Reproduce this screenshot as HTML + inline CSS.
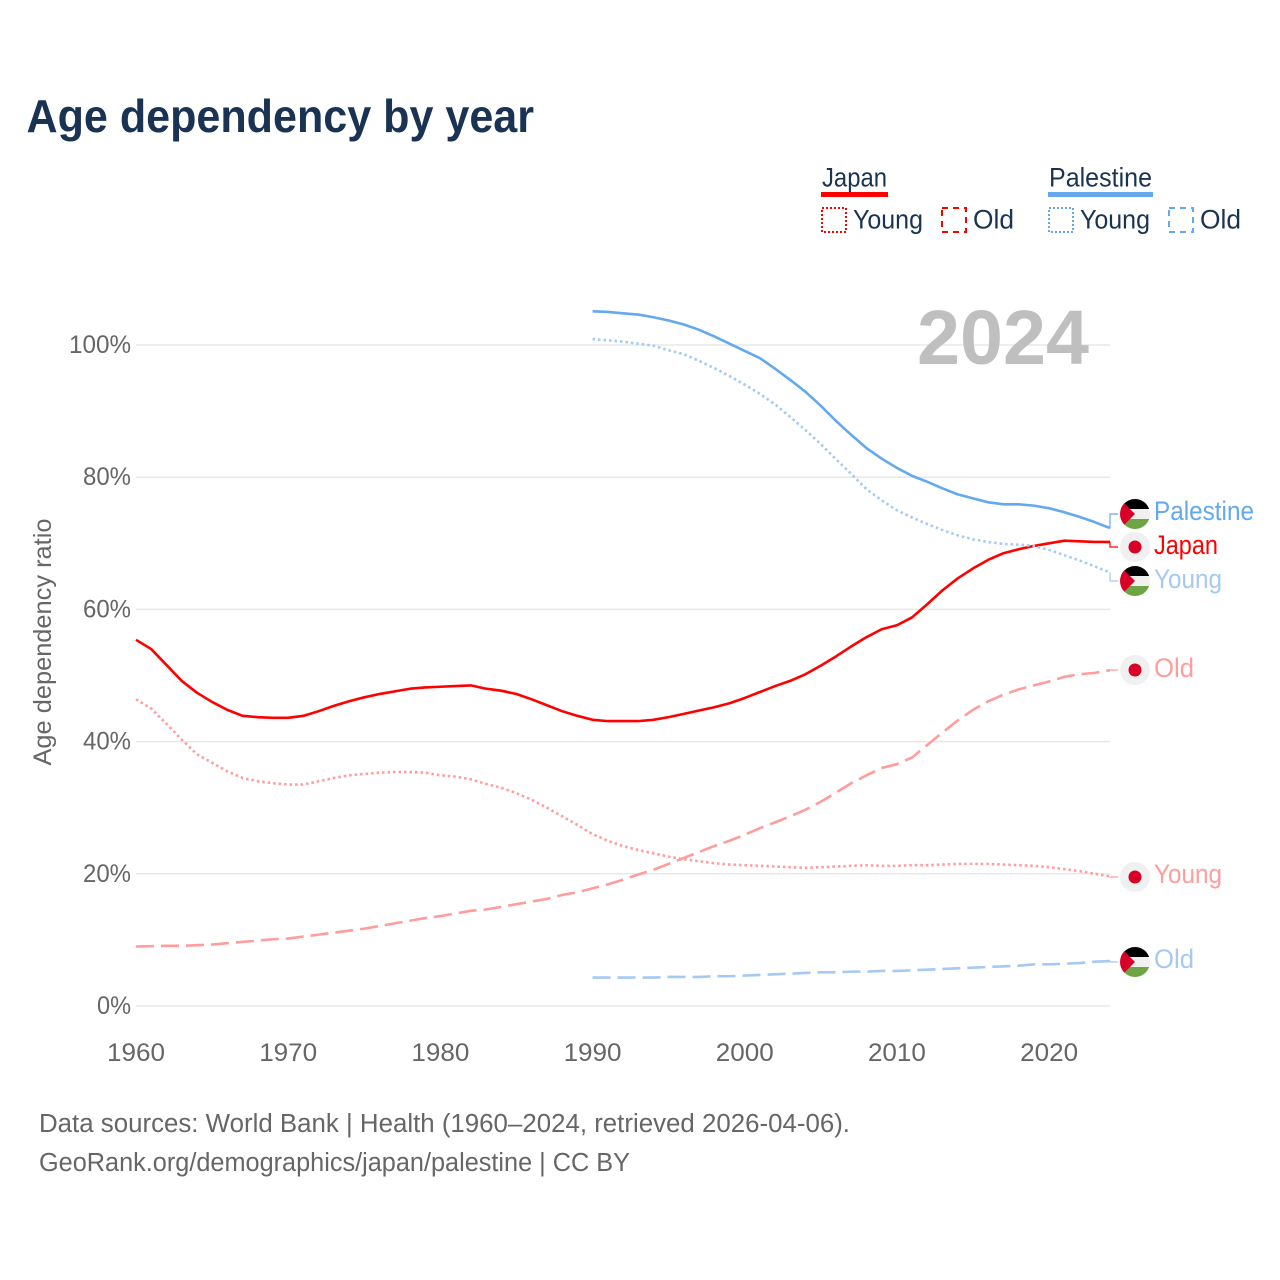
<!DOCTYPE html>
<html lang="en">
<head>
<meta charset="utf-8">
<title>Age dependency by year</title>
<style>
html,body{margin:0;padding:0;background:#fff;width:1280px;height:1280px;overflow:hidden}
svg{display:block}
text{font-family:"Liberation Sans",sans-serif}
</style>
</head>
<body>
<svg id="chart" xmlns="http://www.w3.org/2000/svg" width="1280" height="1280" viewBox="0 0 1280 1280">
  <defs>
    <clipPath id="flag-clip"><circle cx="0" cy="0" r="15"/></clipPath>
    <g id="ps-flag">
      <g clip-path="url(#flag-clip)">
        <rect x="-15" y="-15" width="30" height="10" fill="#000"/>
        <rect x="-15" y="-5" width="30" height="10" fill="#f0f0f0"/>
        <rect x="-15" y="5" width="30" height="10" fill="#6da544"/>
        <polygon points="-15,-15 0,0 -15,15" fill="#d80027"/>
      </g>
    </g>
    <g id="jp-flag">
      <circle r="15" fill="#f0f0f0"/>
      <circle r="6.5" fill="#d80027"/>
    </g>
  </defs>

  <text x="26.5" y="132" font-size="46" font-weight="700" fill="#1a3352" textLength="507.5" lengthAdjust="spacingAndGlyphs">Age dependency by year</text>

  <g font-size="26.5" fill="#1a3352">
    <g>
      <text x="822" y="186.5" textLength="65" lengthAdjust="spacingAndGlyphs">Japan</text>
      <rect x="821" y="192" width="67" height="5" fill="#ff0000"/>
      <rect x="822" y="208" width="24" height="24" fill="none" stroke="#ff0000" stroke-width="2" stroke-dasharray="2,2"/>
      <text x="853" y="228.5" textLength="70" lengthAdjust="spacingAndGlyphs">Young</text>
      <rect x="942" y="208" width="24" height="24" fill="none" stroke="#ff0000" stroke-width="2" stroke-dasharray="6,5"/>
      <text x="973" y="228.5" textLength="41" lengthAdjust="spacingAndGlyphs">Old</text>
    </g>
    <g>
      <text x="1049" y="186.5" textLength="103" lengthAdjust="spacingAndGlyphs">Palestine</text>
      <rect x="1048" y="192" width="105" height="5" fill="#64a8ee"/>
      <rect x="1049" y="208" width="24" height="24" fill="none" stroke="#64a8ee" stroke-width="2" stroke-dasharray="2,2"/>
      <text x="1080" y="228.5" textLength="70" lengthAdjust="spacingAndGlyphs">Young</text>
      <rect x="1169" y="208" width="24" height="24" fill="none" stroke="#64a8ee" stroke-width="2" stroke-dasharray="6,5"/>
      <text x="1200" y="228.5" textLength="41" lengthAdjust="spacingAndGlyphs">Old</text>
    </g>
  </g>

  <g id="grid"></g>

  <text x="917" y="364" font-size="77" font-weight="700" fill="#bfbfbf" textLength="172" lengthAdjust="spacingAndGlyphs">2024</text>

  <g id="y-ticks"></g>
  <g id="x-ticks"></g>
  <text transform="translate(51,642) rotate(-90)" text-anchor="middle" font-size="25" fill="#666666" textLength="247" lengthAdjust="spacingAndGlyphs">Age dependency ratio</text>

  <g id="series"></g>
  <g id="connectors"></g>

  <g font-size="26.5">
    <use href="#ps-flag" x="1135" y="514"/>
    <text x="1154" y="520" fill="#64a8ee" textLength="100" lengthAdjust="spacingAndGlyphs">Palestine</text>
    <use href="#jp-flag" x="1135" y="547"/>
    <text x="1154" y="554" fill="#ff0000" textLength="64" lengthAdjust="spacingAndGlyphs">Japan</text>
    <use href="#ps-flag" x="1135" y="581"/>
    <text x="1154" y="588" fill="#a5c9f3" textLength="68" lengthAdjust="spacingAndGlyphs">Young</text>
    <use href="#jp-flag" x="1135" y="670"/>
    <text x="1154" y="677" fill="#ff9d9d" textLength="40" lengthAdjust="spacingAndGlyphs">Old</text>
    <use href="#jp-flag" x="1135" y="877"/>
    <text x="1154" y="883" fill="#ff9d9d" textLength="68" lengthAdjust="spacingAndGlyphs">Young</text>
    <use href="#ps-flag" x="1135" y="962"/>
    <text x="1154" y="968" fill="#a5c9f3" textLength="40" lengthAdjust="spacingAndGlyphs">Old</text>
  </g>

  <g font-size="25.5" fill="#666666">
    <text x="39" y="1132" textLength="811" lengthAdjust="spacingAndGlyphs">Data sources: World Bank | Health (1960–2024, retrieved 2026-04-06).</text>
    <text x="39" y="1171" textLength="591" lengthAdjust="spacingAndGlyphs">GeoRank.org/demographics/japan/palestine | CC BY</text>
  </g>
</svg>

<script>
const years = [1960,1961,1962,1963,1964,1965,1966,1967,1968,1969,1970,1971,1972,1973,1974,1975,1976,1977,1978,1979,1980,1981,1982,1983,1984,1985,1986,1987,1988,1989,1990,1991,1992,1993,1994,1995,1996,1997,1998,1999,2000,2001,2002,2003,2004,2005,2006,2007,2008,2009,2010,2011,2012,2013,2014,2015,2016,2017,2018,2019,2020,2021,2022,2023,2024];
const palestineYears = [1990,1991,1992,1993,1994,1995,1996,1997,1998,1999,2000,2001,2002,2003,2004,2005,2006,2007,2008,2009,2010,2011,2012,2013,2014,2015,2016,2017,2018,2019,2020,2021,2022,2023,2024];

const japanTotal = [55.4,54.0,51.6,49.2,47.4,46.0,44.8,43.9,43.7,43.6,43.6,43.9,44.6,45.4,46.1,46.7,47.2,47.6,48.0,48.2,48.3,48.4,48.5,48.0,47.7,47.2,46.4,45.5,44.6,43.9,43.3,43.1,43.1,43.1,43.3,43.7,44.2,44.7,45.2,45.8,46.6,47.5,48.4,49.2,50.2,51.5,52.9,54.4,55.8,57.0,57.6,58.8,60.8,62.9,64.7,66.2,67.5,68.5,69.1,69.6,70.0,70.4,70.3,70.2,70.2];
const japanYoung = [46.4,45.0,42.7,40.3,38.1,36.8,35.5,34.5,34.0,33.7,33.5,33.5,34.0,34.5,34.9,35.1,35.3,35.4,35.4,35.3,34.9,34.7,34.3,33.6,33.0,32.2,31.2,30.0,28.7,27.4,26.0,25.0,24.2,23.6,23.1,22.6,22.2,21.9,21.6,21.4,21.3,21.2,21.1,21.0,20.9,21.0,21.1,21.2,21.3,21.2,21.2,21.3,21.3,21.4,21.5,21.5,21.5,21.4,21.3,21.2,21.0,20.7,20.4,20.0,19.6];
const japanOld = [9.0,9.05,9.1,9.1,9.2,9.3,9.5,9.7,9.9,10.1,10.2,10.5,10.8,11.1,11.4,11.7,12.1,12.5,12.9,13.3,13.6,14.0,14.4,14.6,15.0,15.4,15.8,16.2,16.8,17.2,17.8,18.4,19.1,19.9,20.6,21.5,22.4,23.3,24.2,25.0,25.9,26.9,27.8,28.7,29.7,30.9,32.3,33.7,34.9,36.0,36.6,37.6,39.5,41.4,43.2,44.8,46.1,47.1,47.9,48.5,49.1,49.8,50.2,50.4,50.8];

const palestineTotal = [105.1,105.0,104.8,104.6,104.2,103.7,103.1,102.3,101.3,100.2,99.1,98.0,96.4,94.7,92.9,90.8,88.5,86.4,84.4,82.8,81.4,80.2,79.3,78.3,77.4,76.8,76.2,75.9,75.9,75.7,75.3,74.7,74.0,73.2,72.3];
const palestineYoung = [100.9,100.7,100.5,100.2,99.9,99.2,98.6,97.6,96.5,95.3,94.0,92.6,91.0,89.1,87.1,85.0,82.7,80.5,78.2,76.5,75.0,73.9,72.9,72.0,71.2,70.6,70.2,69.9,69.8,69.6,69.0,68.2,67.4,66.5,65.6];
const palestineOld = [4.3,4.3,4.3,4.3,4.3,4.4,4.4,4.4,4.5,4.5,4.6,4.7,4.8,4.9,5.0,5.1,5.1,5.2,5.2,5.3,5.3,5.4,5.5,5.6,5.7,5.8,5.9,6.0,6.1,6.3,6.3,6.4,6.5,6.7,6.8];

const yTickValues = [0,20,40,60,80,100];
const yTickLabels = ["0%","20%","40%","60%","80%","100%"];
const xTickValues = [1960,1970,1980,1990,2000,2010,2020];
const xTickLabels = ["1960","1970","1980","1990","2000","2010","2020"];

const NS = "http://www.w3.org/2000/svg";
const xAxis = function (year) { return 136 + (year - 1960) * (974 / 64); };
const yAxis = function (value) { return 1006 - value * 6.61; };

function make(tag, parentId) {
  const el = document.createElementNS(NS, tag);
  document.getElementById(parentId).appendChild(el);
  return el;
}

yTickValues.forEach(function (v, i) {
  const line = make("line", "grid");
  
  
  line.setAttribute("x1", 136);
  line.setAttribute("x2", 1110);
  line.setAttribute("y1", yAxis(v));
  line.setAttribute("y2", yAxis(v));
  line.setAttribute("stroke", "#e8e8e8");
  line.setAttribute("stroke-width", 1.5);

  const t = make("text", "y-ticks");
  
  
  t.setAttribute("x", 131);
  t.setAttribute("y", yAxis(v) + 8);
  t.setAttribute("text-anchor", "end");
  t.setAttribute("font-size", 25);
  t.setAttribute("fill", "#666666");
  t.setAttribute("textLength", yTickLabels[i].length * 14 + 6);
  t.setAttribute("lengthAdjust", "spacingAndGlyphs");
  t.textContent = yTickLabels[i];
});

xTickValues.forEach(function (v, i) {
  const t = make("text", "x-ticks");
  
  
  t.setAttribute("x", xAxis(v));
  t.setAttribute("y", 1061);
  t.setAttribute("text-anchor", "middle");
  t.setAttribute("font-size", 25);
  t.setAttribute("fill", "#666666");
  t.setAttribute("textLength", 58);
  t.setAttribute("lengthAdjust", "spacingAndGlyphs");
  t.textContent = xTickLabels[i];
});

function pathFor(xs, vs) {
  return vs.map(function (v, i) {
    return (i ? "L" : "M") + xAxis(xs[i]).toFixed(2) + " " + yAxis(v).toFixed(2);
  }).join(" ");
}

const japanOldLine = make("path", "series");


japanOldLine.setAttribute("d", pathFor(years, japanOld));
japanOldLine.setAttribute("stroke", "#ff9d9d");
japanOldLine.setAttribute("stroke-dasharray", "18,7");

const japanYoungLine = make("path", "series");


japanYoungLine.setAttribute("d", pathFor(years, japanYoung));
japanYoungLine.setAttribute("stroke", "#ff9d9d");
japanYoungLine.setAttribute("stroke-dasharray", "2.5,3");

const japanTotalLine = make("path", "series");


japanTotalLine.setAttribute("d", pathFor(years, japanTotal));
japanTotalLine.setAttribute("stroke", "#ff0000");

const palestineOldLine = make("path", "series");


palestineOldLine.setAttribute("d", pathFor(palestineYears, palestineOld));
palestineOldLine.setAttribute("stroke", "#a5c9f3");
palestineOldLine.setAttribute("stroke-dasharray", "18,7");

const palestineYoungLine = make("path", "series");


palestineYoungLine.setAttribute("d", pathFor(palestineYears, palestineYoung));
palestineYoungLine.setAttribute("stroke", "#a5c9f3");
palestineYoungLine.setAttribute("stroke-dasharray", "2.5,3");

const palestineTotalLine = make("path", "series");


palestineTotalLine.setAttribute("d", pathFor(palestineYears, palestineTotal));
palestineTotalLine.setAttribute("stroke", "#64a8ee");

[japanOldLine, japanYoungLine, japanTotalLine, palestineOldLine, palestineYoungLine, palestineTotalLine].forEach(function (p) {
  p.setAttribute("fill", "none");
  p.setAttribute("stroke-width", 2.6);
  p.setAttribute("stroke-linejoin", "round");
});

function connector(value, labelY, color) {
  const c = make("path", "connectors");
  
  
  c.setAttribute("d", "M" + xAxis(2024) + " " + yAxis(value).toFixed(2) + " V" + labelY + " H1118");
  c.setAttribute("fill", "none");
  c.setAttribute("stroke", color);
  c.setAttribute("stroke-width", 1.2);
  return c;
}
connector(palestineTotal[palestineTotal.length - 1], 514, "#64a8ee");
connector(japanTotal[japanTotal.length - 1], 547, "#ff0000");
connector(palestineYoung[palestineYoung.length - 1], 581, "#a5c9f3");
connector(japanOld[japanOld.length - 1], 670, "#ff9d9d");
connector(japanYoung[japanYoung.length - 1], 877, "#ff9d9d");
connector(palestineOld[palestineOld.length - 1], 962, "#a5c9f3");
</script>
</body>
</html>
